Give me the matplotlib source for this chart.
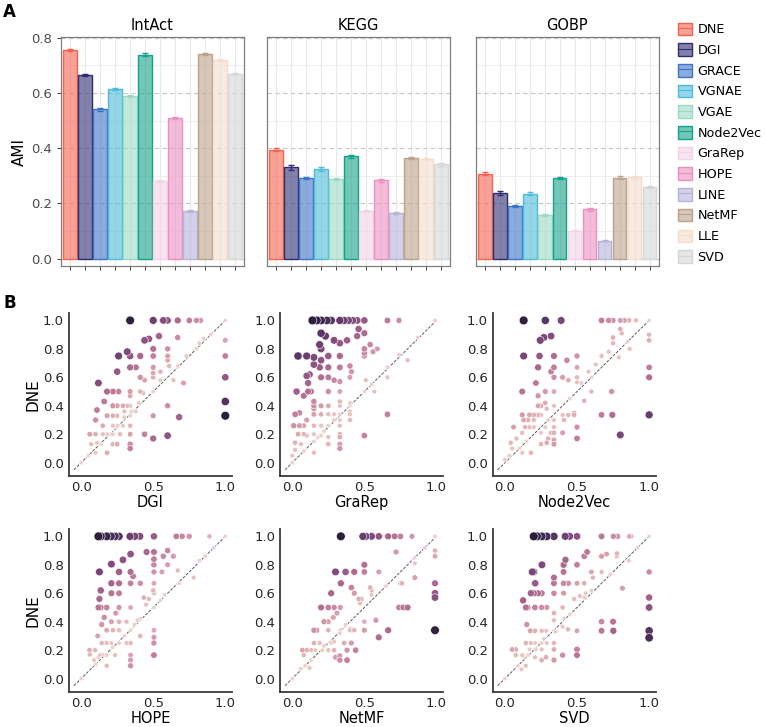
import numpy as np
import seaborn as sns
from matplotlib import pyplot as plt
from matplotlib.patches import Patch
from matplotlib.lines import Line2D
from matplotlib.colors import to_rgba
from matplotlib.ticker import MultipleLocator

methods = ['DNE', 'DGI', 'GRACE', 'VGNAE', 'VGAE', 'Node2Vec', 'GraRep', 'HOPE',
           'LINE', 'NetMF', 'LLE', 'SVD']
colors = ['#F46451', '#2F2D72', '#3D74C6', '#4DBCD9', '#9CD9C5', '#14A388',
          '#F4D3E8', '#EC8FC1', '#B5B3D8', '#BBA28A', '#F6DCCC', '#D4D7D6']

datasets = ['IntAct', 'KEGG', 'GOBP']
ami_intact = [0.755, 0.665, 0.540, 0.613, 0.590, 0.738, 0.280, 0.510, 0.173, 0.742, 0.718, 0.670]
ami_kegg = [0.395, 0.330, 0.293, 0.325, 0.289, 0.370, 0.172, 0.283, 0.166, 0.364, 0.361, 0.341]
ami_gobp = [0.307, 0.238, 0.190, 0.235, 0.157, 0.292, 0.101, 0.178, 0.064, 0.293, 0.294, 0.259]
err_intact = [0.005, 0.005, 0.004, 0.004, 0.004, 0.005, 0.003, 0.004, 0.004, 0.004, 0.004, 0.003]
err_kegg = [0.006, 0.008, 0.004, 0.007, 0.004, 0.004, 0.004, 0.006, 0.004, 0.004, 0.004, 0.006]
err_gobp = [0.005, 0.006, 0.004, 0.006, 0.004, 0.003, 0.002, 0.004, 0.002, 0.005, 0.004, 0.004]

# panel B: (other method, DNE) per module
dgi_pts = [(0.34, 1.0), (0.50, 1.0), (0.57, 1.0), (0.60, 1.0), (0.67, 1.0), (0.75, 1.0), (0.80, 1.0), (0.83, 1.0),
           (0.54, 0.89), (0.47, 0.87), (0.44, 0.86), (0.67, 0.88), (0.50, 0.80), (0.60, 0.80),
           (0.26, 0.75), (0.34, 0.75), (0.41, 0.75), (0.50, 0.75), (0.60, 0.75), (1.0, 0.75), (0.32, 0.78), (1.0, 0.86),
           (0.60, 0.72), (0.61, 0.68), (0.25, 0.64), (0.34, 0.67), (0.38, 0.67),
           (0.41, 0.60), (0.44, 0.58), (0.50, 0.67), (0.50, 0.63), (0.50, 0.60), (0.55, 0.64), (0.64, 0.58),
           (0.71, 0.56), (1.0, 0.60),
           (0.12, 0.56), (0.18, 0.50), (0.22, 0.50), (0.26, 0.50), (0.34, 0.50), (0.41, 0.50), (0.50, 0.50), (0.34, 0.47),
           (0.16, 0.43), (0.22, 0.40), (0.25, 0.40), (0.29, 0.40), (0.32, 0.40), (0.34, 0.40), (0.60, 0.40), (1.0, 0.43),
           (0.11, 0.37), (0.18, 0.33), (0.22, 0.33), (0.25, 0.33), (0.34, 0.33), (0.50, 0.33), (0.68, 0.32), (1.0, 0.33),
           (0.10, 0.30), (0.15, 0.26), (0.22, 0.26), (0.25, 0.26), (0.29, 0.26), (0.34, 0.26),
           (0.06, 0.20), (0.10, 0.20), (0.15, 0.20), (0.22, 0.20), (0.27, 0.20), (0.34, 0.20), (0.44, 0.20),
           (0.60, 0.19), (0.50, 0.17),
           (0.07, 0.13), (0.11, 0.14), (0.14, 0.13), (0.22, 0.13), (0.25, 0.13), (0.34, 0.13), (0.34, 0.10),
           (0.18, 0.07), (0.10, 0.07),
           (0.82, 0.84), (0.80, 0.80), (0.85, 0.87), (0.73, 0.75), (0.67, 0.68), (0.55, 0.58), (0.43, 0.49),
           (0.40, 0.42), (0.30, 0.32), (0.25, 0.25), (0.18, 0.20), (0.12, 0.14), (0.05, 0.05), (0.0, 0.0),
           (0.90, 0.90), (1.0, 1.0), (0.35, 0.36), (0.20, 0.20), (0.38, 0.36), (0.30, 0.36)]

grarep_pts = [(0.14, 1.0), (0.17, 1.0), (0.20, 1.0), (0.24, 1.0), (0.27, 1.0), (0.33, 1.0), (0.36, 1.0), (0.39, 1.0),
              (0.42, 1.0), (0.45, 1.0), (0.50, 1.0), (0.66, 1.0), (0.74, 1.0),
              (0.20, 0.91), (0.23, 0.89), (0.29, 0.86), (0.19, 0.83), (0.20, 0.80), (0.33, 0.84), (0.38, 0.86),
              (0.46, 0.94), (0.45, 0.89), (0.50, 0.91), (0.54, 0.83), (0.50, 0.80), (0.50, 0.77), (0.50, 0.75),
              (0.56, 0.78), (0.59, 0.80),
              (0.04, 0.75), (0.10, 0.75), (0.15, 0.74), (0.25, 0.75), (0.33, 0.75), (0.20, 0.72),
              (0.15, 0.69), (0.19, 0.67), (0.25, 0.67), (0.33, 0.67), (0.40, 0.68), (0.41, 0.64), (0.40, 0.60),
              (0.10, 0.61), (0.12, 0.62), (0.20, 0.60), (0.25, 0.60), (0.29, 0.58), (0.33, 0.57), (0.11, 0.56),
              (0.03, 0.50), (0.11, 0.50), (0.13, 0.50), (0.25, 0.50), (0.33, 0.50), (0.50, 0.50), (0.57, 0.50),
              (0.08, 0.47),
              (0.15, 0.43), (0.15, 0.40), (0.15, 0.38), (0.20, 0.40), (0.25, 0.40), (0.33, 0.40), (0.33, 0.43),
              (0.40, 0.40),
              (0.02, 0.34), (0.05, 0.35), (0.15, 0.34), (0.20, 0.34), (0.25, 0.34), (0.29, 0.34), (0.33, 0.34),
              (0.40, 0.34), (0.40, 0.36), (0.66, 0.34),
              (0.40, 0.30), (0.33, 0.30), (0.10, 0.30),
              (0.01, 0.26), (0.05, 0.26), (0.08, 0.26), (0.15, 0.26), (0.20, 0.26), (0.25, 0.26), (0.33, 0.26),
              (0.04, 0.20), (0.08, 0.20), (0.10, 0.19), (0.15, 0.20), (0.20, 0.19), (0.25, 0.18), (0.33, 0.20),
              (0.33, 0.18), (0.50, 0.19),
              (0.02, 0.14), (0.06, 0.13), (0.15, 0.15), (0.25, 0.13), (0.33, 0.13), (0.33, 0.10), (0.15, 0.07),
              (0.02, 0.09),
              (0.99, 1.0), (0.87, 0.88), (0.80, 0.72), (0.66, 0.60), (0.51, 0.58), (0.74, 0.76), (0.66, 0.67),
              (0.40, 0.42), (0.29, 0.30), (0.18, 0.18), (0.0, 0.05), (0.0, 0.0), (0.55, 0.55), (0.22, 0.22),
              (0.08, 0.08)]

node2vec_pts = [(0.13, 1.0), (0.28, 1.0), (0.39, 1.0), (0.67, 1.0), (0.72, 1.0), (0.75, 1.0), (0.80, 1.0),
                (0.83, 1.0), (0.86, 1.0), (0.91, 1.0),
                (0.245, 0.86), (0.27, 0.88), (0.32, 0.89),
                (0.80, 0.94), (0.81, 0.91), (1.0, 0.90), (1.0, 0.86), (0.75, 0.88), (0.75, 0.84),
                (0.13, 0.75), (0.24, 0.75), (0.34, 0.75), (0.50, 0.75), (0.43, 0.72),
                (0.23, 0.67), (0.34, 0.67), (0.50, 0.67), (0.32, 0.64), (0.34, 0.60), (0.40, 0.60), (0.44, 0.58),
                (0.50, 0.60), (0.50, 0.565), (1.0, 0.67), (1.0, 0.60),
                (0.215, 0.56), (0.12, 0.50), (0.28, 0.50), (0.34, 0.50), (0.60, 0.50), (0.74, 0.50),
                (0.23, 0.47), (0.28, 0.42), (0.23, 0.40), (0.25, 0.40), (0.29, 0.38), (0.34, 0.40), (0.55, 0.435),
                (0.12, 0.336), (0.17, 0.336), (0.20, 0.336), (0.23, 0.336), (0.25, 0.336), (0.40, 0.336),
                (0.44, 0.336), (0.48, 0.336), (0.67, 0.336), (0.745, 0.336), (1.0, 0.336),
                (0.13, 0.30), (0.16, 0.30), (0.20, 0.30), (0.34, 0.30), (0.41, 0.30),
                (0.06, 0.25), (0.14, 0.25), (0.17, 0.25), (0.20, 0.25), (0.28, 0.25), (0.34, 0.25), (0.50, 0.25),
                (0.12, 0.21), (0.25, 0.21), (0.32, 0.21), (0.34, 0.21), (0.40, 0.21), (0.80, 0.195),
                (0.50, 0.17), (0.34, 0.16), (0.30, 0.17), (0.29, 0.14), (0.34, 0.13), (0.25, 0.13),
                (0.08, 0.17), (0.04, 0.14), (0.05, 0.10), (0.12, 0.07), (0.18, 0.07),
                (0.865, 0.80), (0.79, 0.74), (0.72, 0.78), (0.67, 0.75), (0.63, 0.69), (0.58, 0.64),
                (0.53, 0.56), (0.48, 0.35), (0.0, 0.02), (0.03, 0.05), (1.0, 1.0), (0.85, 0.85), (0.60, 0.60),
                (0.45, 0.45), (0.30, 0.30), (0.15, 0.15), (0.10, 0.10)]

hope_pts = [(0.12, 1.0), (0.136, 1.0), (0.177, 1.0), (0.207, 1.0), (0.235, 1.0), (0.263, 1.0), (0.339, 1.0),
            (0.373, 1.0), (0.408, 1.0), (0.505, 1.0), (0.66, 1.0), (0.70, 1.0), (0.75, 1.0), (0.89, 1.0),
            (0.505, 0.89), (0.454, 0.89), (0.60, 0.90), (0.57, 0.86), (0.64, 0.86), (0.343, 0.875),
            (0.29, 0.835), (0.21, 0.805), (0.505, 0.84), (0.505, 0.80), (0.60, 0.80),
            (0.127, 0.75), (0.263, 0.75), (0.343, 0.75), (0.36, 0.72), (0.505, 0.75), (0.56, 0.75),
            (0.67, 0.76), (0.82, 0.83), (0.78, 0.71),
            (0.21, 0.67), (0.263, 0.67), (0.343, 0.67), (0.41, 0.67), (0.505, 0.67), (0.136, 0.62),
            (0.21, 0.60), (0.263, 0.60),
            (0.127, 0.56), (0.435, 0.57), (0.47, 0.56), (0.505, 0.60), (0.50, 0.62),
            (0.12, 0.50), (0.136, 0.50), (0.177, 0.50), (0.263, 0.50), (0.343, 0.50), (0.505, 0.50), (0.24, 0.46),
            (0.16, 0.43), (0.21, 0.40), (0.263, 0.40), (0.315, 0.40), (0.143, 0.38), (0.41, 0.42), (0.39, 0.41),
            (0.177, 0.34), (0.22, 0.34), (0.263, 0.34), (0.343, 0.34), (0.505, 0.34), (0.505, 0.29),
            (0.505, 0.25), (0.41, 0.30),
            (0.115, 0.30), (0.143, 0.25), (0.177, 0.25), (0.21, 0.25), (0.263, 0.25), (0.315, 0.25), (0.343, 0.25),
            (0.058, 0.20), (0.097, 0.20), (0.13, 0.165), (0.177, 0.165), (0.235, 0.165), (0.343, 0.165),
            (0.505, 0.165), (0.343, 0.13), (0.343, 0.09), (0.177, 0.09),
            (0.06, 0.17), (0.09, 0.13), (0.12, 0.15),
            (1.0, 1.0), (0.68, 0.67), (0.45, 0.52), (0.37, 0.38), (0.30, 0.30), (0.22, 0.22), (0.15, 0.17),
            (0.10, 0.10), (0.0, 0.0), (0.58, 0.59), (0.86, 0.86), (0.92, 0.92), (0.55, 0.55)]

netmf_pts = [(0.337, 1.0), (0.49, 1.0), (0.51, 1.0), (0.55, 1.0), (0.60, 1.0), (0.665, 1.0), (0.71, 1.0),
             (0.75, 1.0), (0.83, 1.0),
             (0.50, 0.80), (0.50, 0.75), (0.30, 0.75), (0.37, 0.75), (0.43, 0.75), (0.60, 0.75), (0.72, 0.89),
             (0.99, 0.90), (0.99, 0.86), (0.85, 0.71), (0.85, 0.81),
             (0.337, 0.67), (0.27, 0.60), (0.41, 0.64), (0.43, 0.60), (0.48, 0.56), (0.46, 0.56), (0.54, 0.64),
             (0.55, 0.62), (0.75, 0.67), (0.99, 0.67), (0.99, 0.60), (0.99, 0.57),
             (0.20, 0.50), (0.25, 0.50), (0.29, 0.50), (0.333, 0.50), (0.74, 0.50), (0.77, 0.50), (0.80, 0.50),
             (0.31, 0.46),
             (0.22, 0.40), (0.25, 0.40), (0.285, 0.43), (0.50, 0.40), (0.58, 0.41),
             (0.15, 0.34), (0.17, 0.34), (0.25, 0.34), (0.333, 0.34), (0.40, 0.34), (0.43, 0.34), (0.50, 0.34),
             (0.665, 0.34), (0.99, 0.34), (0.60, 0.29),
             (0.15, 0.25), (0.19, 0.25), (0.29, 0.26), (0.36, 0.25), (0.41, 0.25),
             (0.07, 0.20), (0.10, 0.20), (0.13, 0.20), (0.16, 0.20), (0.21, 0.20), (0.25, 0.20), (0.29, 0.20),
             (0.38, 0.20), (0.44, 0.20),
             (0.30, 0.15), (0.33, 0.16), (0.38, 0.13), (0.33, 0.13), (0.08, 0.165), (0.09, 0.09), (0.12, 0.075),
             (0.99, 1.0), (0.85, 0.85), (0.76, 0.67), (0.55, 0.59), (0.47, 0.53), (0.37, 0.38), (0.40, 0.35),
             (0.33, 0.32), (0.27, 0.25), (0.22, 0.23), (0.13, 0.13), (0.06, 0.07), (0.0, 0.0), (0.65, 0.65),
             (0.92, 0.92)]

svd_pts = [(0.20, 1.0), (0.222, 1.0), (0.255, 1.0), (0.29, 1.0), (0.34, 1.0), (0.418, 1.0), (0.449, 1.0),
           (0.50, 1.0), (0.67, 1.0), (0.752, 1.0), (0.783, 1.0), (0.862, 1.0), (0.876, 1.0),
           (0.57, 0.89), (0.55, 0.86), (0.67, 0.86), (0.705, 0.875), (0.776, 0.88), (0.776, 0.86), (0.857, 0.83),
           (0.42, 0.835), (0.257, 0.80), (0.407, 0.80), (0.50, 0.80), (0.19, 0.75), (0.20, 0.75), (0.407, 0.75),
           (0.60, 0.75), (0.67, 0.75), (0.61, 0.71), (1.0, 0.75),
           (0.34, 0.71), (0.21, 0.67), (0.34, 0.67), (0.407, 0.67), (0.44, 0.67), (0.50, 0.67), (0.55, 0.67),
           (0.815, 0.635),
           (0.18, 0.60), (0.20, 0.60), (0.23, 0.60), (0.255, 0.60), (0.34, 0.60), (0.407, 0.60), (0.48, 0.56),
           (0.52, 0.58), (0.56, 0.60), (0.126, 0.55),
           (0.145, 0.50), (0.157, 0.50), (0.208, 0.50), (0.255, 0.50), (0.29, 0.50), (0.40, 0.50), (1.0, 0.57),
           (1.0, 0.50),
           (0.34, 0.46), (0.34, 0.41), (0.152, 0.38), (0.40, 0.365), (0.437, 0.346), (0.67, 0.40), (0.75, 0.40),
           (0.175, 0.336), (0.208, 0.336), (0.255, 0.336), (0.285, 0.336), (0.34, 0.336), (0.50, 0.336),
           (0.67, 0.336), (0.752, 0.336), (1.0, 0.336), (1.0, 0.287),
           (0.145, 0.25), (0.18, 0.25), (0.208, 0.25), (0.255, 0.25), (0.29, 0.25), (0.34, 0.25),
           (0.05, 0.205), (0.075, 0.205), (0.17, 0.205), (0.215, 0.205), (0.255, 0.205), (0.34, 0.205),
           (0.50, 0.205), (0.50, 0.165), (0.40, 0.165),
           (0.075, 0.165), (0.12, 0.165), (0.16, 0.165), (0.208, 0.15), (0.255, 0.13), (0.285, 0.15),
           (0.34, 0.13), (0.09, 0.09), (0.115, 0.065), (0.145, 0.09),
           (1.0, 1.0), (0.86, 0.83), (0.60, 0.62), (0.55, 0.57), (0.45, 0.45), (0.41, 0.42), (0.27, 0.28),
           (0.14, 0.15), (0.0, 0.0), (0.73, 0.73), (0.92, 0.92), (0.35, 0.33)]

scatter_names = ['DGI', 'GraRep', 'Node2Vec', 'HOPE', 'NetMF', 'SVD']
scatter_pts = [dgi_pts, grarep_pts, node2vec_pts, hope_pts, netmf_pts, svd_pts]

fig = plt.figure(figsize=(7.65, 7.27), dpi=100)

# ---- panel A: bar charts
bar_vals = [ami_intact, ami_kegg, ami_gobp]
bar_errs = [err_intact, err_kegg, err_gobp]
bar_left = [0.0797, 0.349, 0.622]
x = np.arange(len(methods))
for i, name in enumerate(datasets):
    ax = fig.add_axes([bar_left[i], 0.634, 0.239, 0.315])
    ax.set_axisbelow(True)
    ax.bar(x, bar_vals[i], width=0.9, color=[to_rgba(c, 0.6) for c in colors],
           edgecolor=colors, linewidth=1.0, zorder=2)
    for j in range(len(methods)):
        ax.errorbar(x[j], bar_vals[i][j], yerr=bar_errs[i][j], fmt='none', ecolor=colors[j],
                    elinewidth=1.0, capsize=2.5, capthick=1.0, zorder=3)
    ax.set_xlim(-0.6, 11.6)
    ax.set_ylim(-0.027, 0.802)
    ax.set_xticks(x)
    ax.set_xticklabels([])
    ax.yaxis.set_major_locator(MultipleLocator(0.2))
    ax.yaxis.set_minor_locator(MultipleLocator(0.1))
    ax.grid(axis='y', which='major', ls=(0, (4, 3)), color='#c8c8c8', lw=0.8)
    ax.grid(axis='y', which='minor', color='#eeeeee', lw=0.7)
    ax.grid(axis='x', which='major', color='#e8e8e8', lw=0.8)
    ax.tick_params(axis='both', which='major', length=3, color='#444444', labelsize=9.5,
                   labelcolor='#4d4d4d', width=0.7)
    ax.tick_params(axis='y', which='minor', length=0)
    for sp in ax.spines.values():
        sp.set_color('#7f7f7f')
        sp.set_linewidth(0.9)
    ax.set_title(name, fontsize=10.5, pad=5)
    if i == 0:
        ax.set_ylabel('AMI', fontsize=11, labelpad=3)
        ax.set_yticklabels([f'{v:.1f}' for v in ax.get_yticks()])
    else:
        ax.tick_params(axis='y', left=False, labelleft=False)

handles = [(Patch(facecolor=to_rgba(c, 0.6), edgecolor=c, linewidth=1.0), Line2D([], [], color=c, lw=0.8))
           for c in colors]
fig.legend(handles, methods, loc='upper left', bbox_to_anchor=(0.886, 0.969), frameon=False,
           fontsize=9.2, handlelength=1.1, handleheight=1.15, labelspacing=0.55,
           handletextpad=0.45, borderpad=0, borderaxespad=0)

fig.text(0.004, 0.977, 'A', fontsize=12, fontweight='bold')
fig.text(0.004, 0.576, 'B', fontsize=12, fontweight='bold')

# ---- panel B: scatter plots DNE vs other methods
cmap = sns.cubehelix_palette(as_cmap=True)
sc_left = [0.090, 0.366, 0.644]
sc_bottom = [0.345, 0.048]
for k, (name, pts) in enumerate(zip(scatter_names, scatter_pts)):
    r, c = divmod(k, 3)
    ax = fig.add_axes([sc_left[c], sc_bottom[r], 0.213, 0.225])
    arr = np.array(pts)
    xs, ys = arr[:, 0], arr[:, 1]
    d = np.abs(ys - xs)
    nrm = (d - d.min()) / (d.max() - d.min())
    order = np.argsort(d)
    ax.plot([-0.05, 1.0], [-0.05, 1.0], ls=(0, (3, 1.5)), color='#5a5a5a', lw=0.7, zorder=1)
    ax.scatter(xs[order], ys[order], c=d[order], cmap=cmap, s=(10 + 30 * nrm)[order],
               edgecolors='white', linewidths=0.4, zorder=2)
    ax.set_xlim(-0.085, 1.045)
    ax.set_ylim(-0.095, 1.055)
    ax.set_xticks([0.0, 0.5, 1.0])
    ax.set_yticks([0.0, 0.2, 0.4, 0.6, 0.8, 1.0])
    ax.tick_params(length=0, labelsize=9.5, labelcolor='#262626', pad=3.5)
    for side in ['top', 'right']:
        ax.spines[side].set_visible(False)
    for side in ['left', 'bottom']:
        ax.spines[side].set_color('#3a3a3a')
        ax.spines[side].set_linewidth(1.3)
    ax.set_xlabel(name, fontsize=10.5, labelpad=1)
    if c == 0:
        ax.set_ylabel('DNE', fontsize=11, labelpad=2)

fig.savefig('out.png', dpi=100)
